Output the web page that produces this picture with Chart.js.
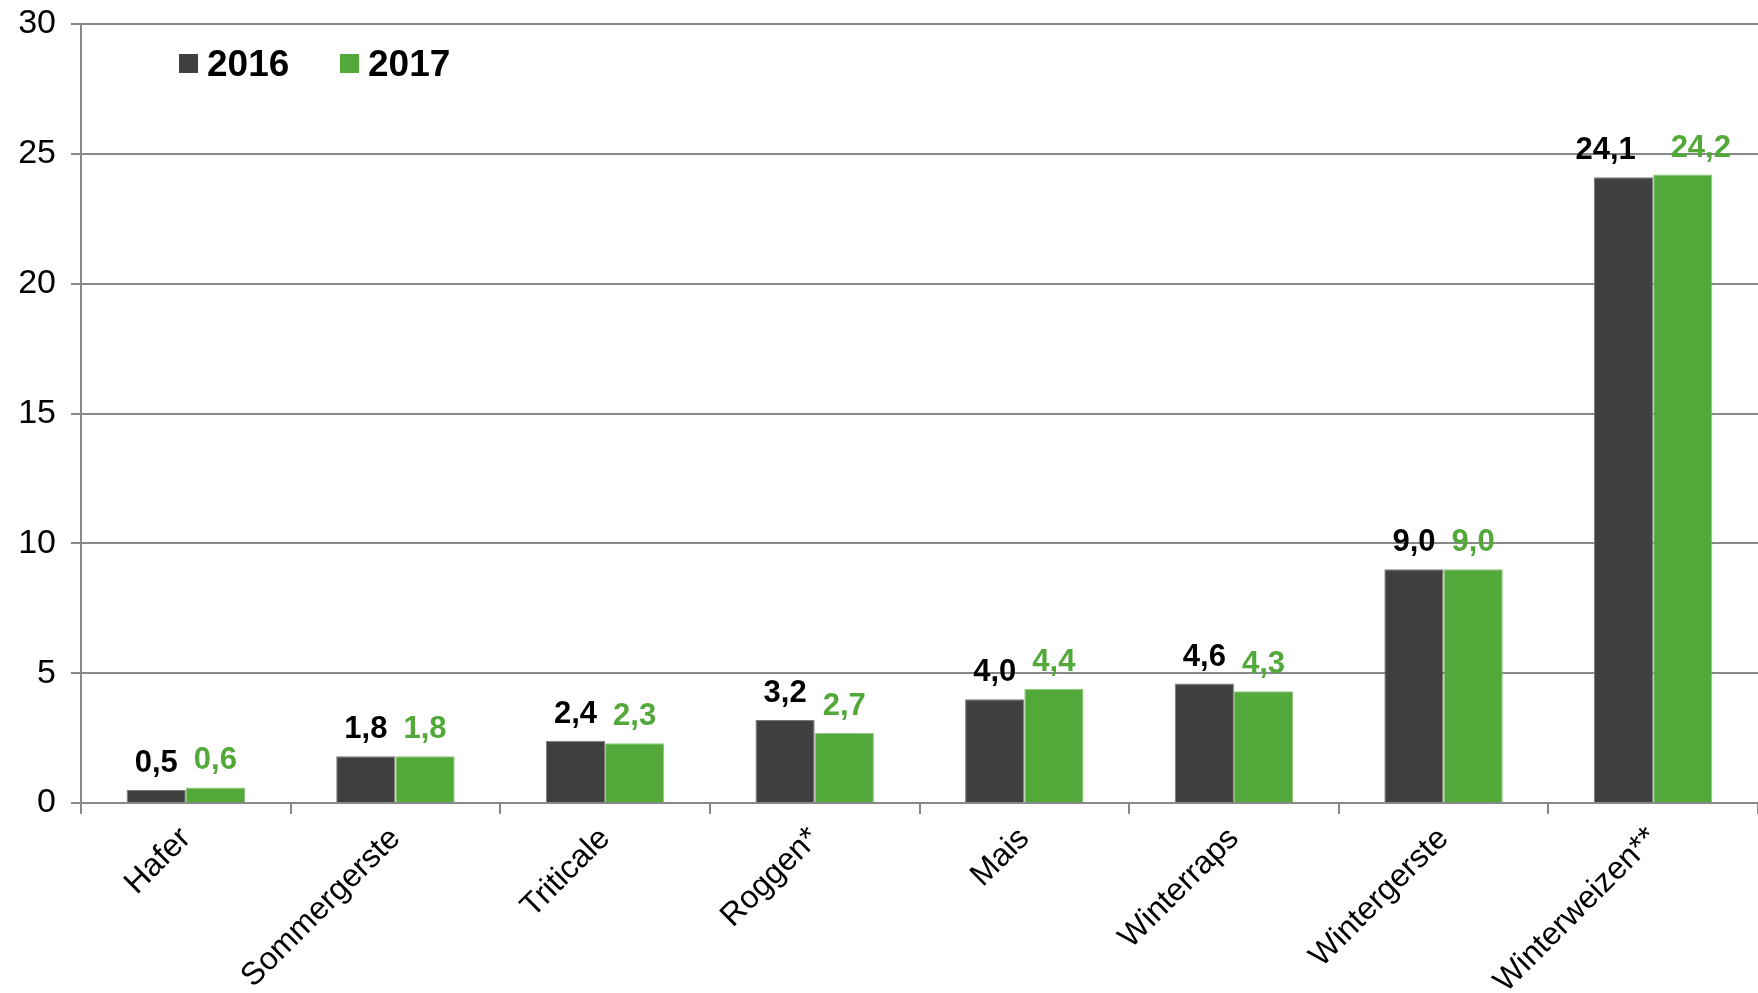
<!DOCTYPE html>
<html>
<head>
<meta charset="utf-8">
<script src="https://cdn.jsdelivr.net/npm/chart.js@4"></script>
<style>
html,body{margin:0;padding:0;background:#fff;overflow:hidden;}
#wrap{width:1758px;height:993px;position:relative;}
</style>
</head>
<body>
<div id="wrap"><canvas id="c"></canvas></div>
<script>
const categories = ["Hafer","Sommergerste","Triticale","Roggen*","Mais","Winterraps","Wintergerste","Winterweizen**"];
const values2016 = [0.5, 1.8, 2.4, 3.2, 4.0, 4.6, 9.0, 24.1];
const values2017 = [0.6, 1.8, 2.3, 2.7, 4.4, 4.3, 9.0, 24.2];
const seriesLabels = ["2016","2017"];
const yTicks = [0,5,10,15,20,25,30];

const DARK = "#404040";
const GREEN = "#52A838";
const FONT = "'Liberation Sans', Arial, sans-serif";

const valueLabels = {
  id: 'valueLabels',
  afterDatasetsDraw(chart) {
    const ctx = chart.ctx;
    ctx.save();
    ctx.font = "bold 31px " + FONT;
    ctx.textAlign = 'center';
    ctx.textBaseline = 'alphabetic';
    const m0 = chart.getDatasetMeta(0), m1 = chart.getDatasetMeta(1);
    const d0 = chart.data.datasets[0].data, d1 = chart.data.datasets[1].data;
    const fmt = v => v.toFixed(1).replace('.', ',');
    m0.data.forEach((b0, i) => {
      const b1 = m1.data[i];
      const t0 = fmt(d0[i]), t1 = fmt(d1[i]);
      const w0 = ctx.measureText(t0).width, w1 = ctx.measureText(t1).width;
      let x0 = b0.x, x1 = b1.x;
      const gap = (x1 - w1 / 2) - (x0 + w0 / 2);
      if (gap < 12) { x0 -= 18; x1 += 18; }
      ctx.fillStyle = '#000000';
      ctx.fillText(t0, x0, b0.y - 18);
      ctx.fillStyle = GREEN;
      ctx.fillText(t1, x1, b1.y - 18);
    });
    ctx.restore();
  }
};

const customLegend = {
  id: 'customLegend',
  afterDraw(chart) {
    const ctx = chart.ctx;
    ctx.save();
    ctx.font = "bold 37px " + FONT;
    ctx.textBaseline = 'middle';
    ctx.textAlign = 'left';
    const xs = [179, 340];
    chart.data.datasets.forEach((ds, di) => {
      ctx.fillStyle = ds.backgroundColor;
      ctx.fillRect(xs[di], 54, 19, 19);
      ctx.fillStyle = '#000';
      ctx.fillText(ds.label, xs[di] + 28, 66);
    });
    ctx.restore();
  }
};

new Chart(document.getElementById('c'), {
  type: 'bar',
  data: {
    labels: categories,
    datasets: [
      { label: seriesLabels[0], data: values2016, backgroundColor: DARK, borderColor: '#7a7a7a', borderWidth: 1, categoryPercentage: 0.565, barPercentage: 1.0 },
      { label: seriesLabels[1], data: values2017, backgroundColor: GREEN, borderColor: '#8cc778', borderWidth: 1, categoryPercentage: 0.565, barPercentage: 1.0 }
    ]
  },
  options: {
    responsive: true,
    maintainAspectRatio: false,
    devicePixelRatio: 1,
    animation: false,
    layout: { padding: { left: 0, top: 24, right: -8, bottom: 0 } },
    plugins: {
      legend: { display: false },
      tooltip: { enabled: false }
    },
    scales: {
      x: {
        afterFit(scale) { scale.height = 190; scale.paddingLeft = 0; scale.paddingRight = 0; },
        grid: { display: true, drawOnChartArea: false, drawTicks: true, tickLength: 11, color: '#888', lineWidth: 2, offset: true },
        border: { display: true, color: '#888', width: 2 },
        ticks: { color: '#000', font: { family: FONT, size: 32 }, minRotation: 45, maxRotation: 45, padding: 6, autoSkip: false }
      },
      y: {
        min: 0, max: 30,
        afterBuildTicks(scale) { scale.ticks = yTicks.map(v => ({ value: v })); },
        afterFit(scale) { scale.width = 81; scale.paddingTop = 0; scale.paddingBottom = 0; },
        grid: { color: '#888', lineWidth: 2, tickLength: 10 },
        border: { display: true, color: '#888', width: 2 },
        ticks: { color: '#000', font: { family: FONT, size: 34 }, padding: 15 }
      }
    }
  },
  plugins: [valueLabels, customLegend]
});
</script>
</body>
</html>
